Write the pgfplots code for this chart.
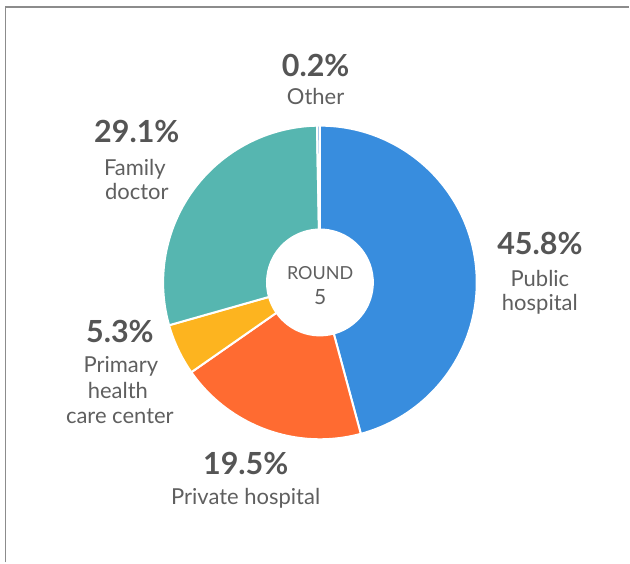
\documentclass[border=0pt]{standalone}
\usepackage{pgfplots}
\pgfplotsset{compat=1.18}
\usepackage{pgfplotstable}
\usepackage{fontspec}
\setmainfont{Lato}
\definecolor{cPub}{HTML}{388DDE}
\definecolor{cPriv}{HTML}{FF6B31}
\definecolor{cPrim}{HTML}{FDB41F}
\definecolor{cFam}{HTML}{56B6B0}
\definecolor{cOth}{HTML}{7AA6E3}
\definecolor{pctgray}{HTML}{555555}
\definecolor{lblgray}{HTML}{5F5F5F}
\definecolor{framegray}{HTML}{8C8C8C}

\pgfplotstableread{
category share
Public 45.8
Private 19.5
Primary 5.3
Family 29.1
Other 0.2
}\piedata

\pgfplotstablegetelem{0}{share}\of\piedata\edef\vA{\pgfplotsretval}
\pgfplotstablegetelem{1}{share}\of\piedata\edef\vB{\pgfplotsretval}
\pgfplotstablegetelem{2}{share}\of\piedata\edef\vC{\pgfplotsretval}
\pgfplotstablegetelem{3}{share}\of\piedata\edef\vD{\pgfplotsretval}
\pgfplotstablegetelem{4}{share}\of\piedata\edef\vE{\pgfplotsretval}
\pgfmathsetmacro\aA{90}
\pgfmathsetmacro\aB{\aA-3.6*\vA}
\pgfmathsetmacro\aC{\aB-3.6*\vB}
\pgfmathsetmacro\aD{\aC-3.6*\vC}
\pgfmathsetmacro\aE{\aD-3.6*\vD}
\pgfmathsetmacro\aF{-270}

\def\cx{320.3}
\def\cy{280.2}
\def\Rout{157}
\def\Rin{53}

\newcommand{\donutslice}[3]{%
  \fill[#3, draw=white, line width=2pt]
    (axis cs:{\cx+\Rout*cos(#1)},{\cy+\Rout*sin(#1)})
    arc[start angle=#1, end angle=#2, radius=\Rout pt]
    -- (axis cs:{\cx+\Rin*cos(#2)},{\cy+\Rin*sin(#2)})
    arc[start angle=#2, end angle=#1, radius=\Rin pt] -- cycle;}

\newcommand{\pctfont}{\fontsize{30.5}{34}\bfseries\selectfont}
\newcommand{\lblfont}{\fontsize{22}{26}\selectfont}

\begin{document}
\begin{tikzpicture}
\begin{axis}[
  hide axis, scale only axis,
  width=630pt, height=563pt,
  xmin=0, xmax=630, ymin=0, ymax=563,
  clip=false]
\path (axis cs:0,0) rectangle (axis cs:630,563);
\draw[framegray, line width=1.5pt] (axis cs:5.6,0) -- (axis cs:5.6,556) -- (axis cs:630,556);

\donutslice{\aA}{\aB}{cPub}
\donutslice{\aB}{\aC}{cPriv}
\donutslice{\aC}{\aD}{cPrim}
\donutslice{\aD}{\aE}{cFam}
\donutslice{\aE}{\aF}{cOth}

% centre
\node[anchor=base, text=lblgray, font=\fontsize{18}{20}\selectfont] at (axis cs:320.5,283) {ROUND};
\node[anchor=base, text=lblgray, font=\fontsize{21}{23}\selectfont] at (axis cs:320.5,258) {5};

% Public hospital
\node[anchor=base, text=pctgray, font=\pctfont] at (axis cs:540.5,308) {45.8\%};
\node[anchor=base, text=lblgray, font=\lblfont] at (axis cs:540.5,276) {Public};
\node[anchor=base, text=lblgray, font=\lblfont] at (axis cs:540.5,252) {hospital};

% Other
\node[anchor=base, text=pctgray, font=\pctfont] at (axis cs:316,486) {0.2\%};
\node[anchor=base, text=lblgray, font=\lblfont] at (axis cs:316,458) {Other};

% Family doctor
\node[anchor=base, text=pctgray, font=\pctfont] at (axis cs:137,420) {29.1\%};
\node[anchor=base, text=lblgray, font=\lblfont] at (axis cs:135,387) {Family};
\node[anchor=base, text=lblgray, font=\lblfont] at (axis cs:137,363) {doctor};

% Primary health care center
\node[anchor=base, text=pctgray, font=\pctfont] at (axis cs:120,220) {5.3\%};
\node[anchor=base, text=lblgray, font=\lblfont] at (axis cs:121,190) {Primary};
\node[anchor=base, text=lblgray, font=\lblfont] at (axis cs:118,164) {health};
\node[anchor=base, text=lblgray, font=\lblfont] at (axis cs:120,139) {care center};

% Private hospital
\node[anchor=base, text=pctgray, font=\pctfont] at (axis cs:246,88) {19.5\%};
\node[anchor=base, text=lblgray, font=\lblfont] at (axis cs:246,58) {Private hospital};
\end{axis}
\end{tikzpicture}
\end{document}
